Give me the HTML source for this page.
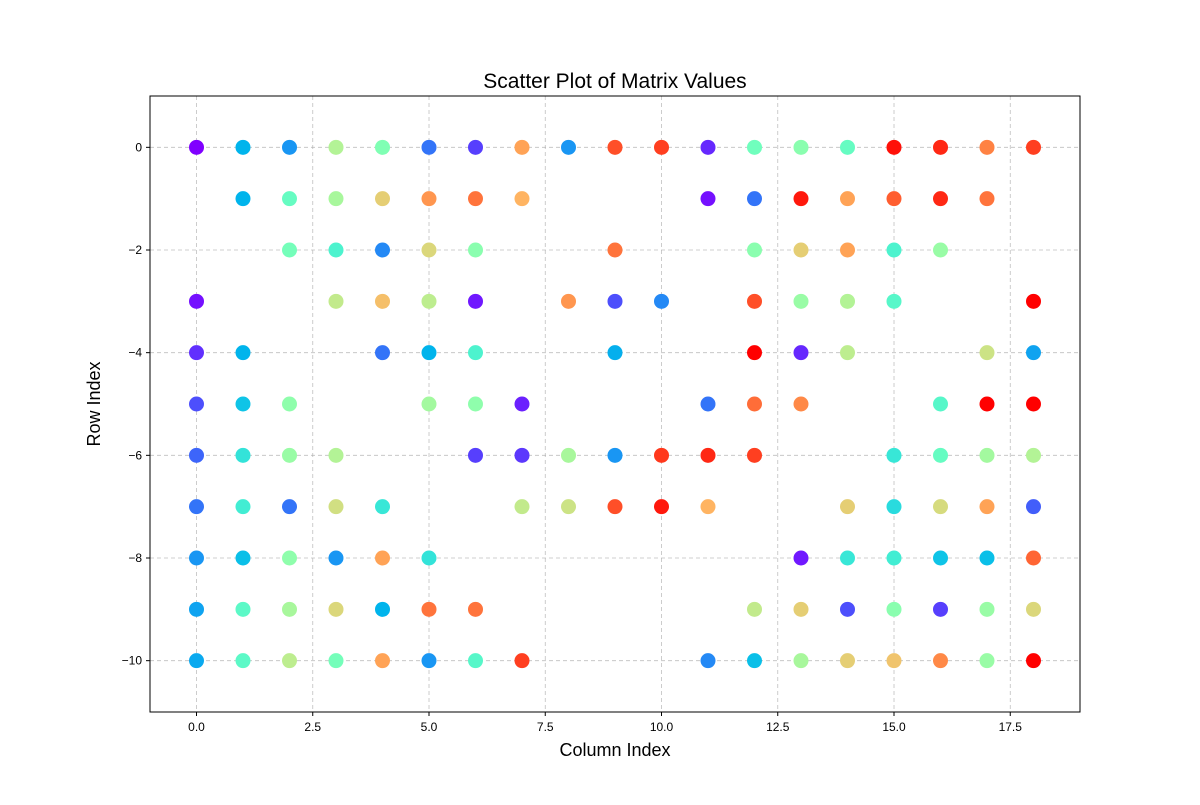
<!DOCTYPE html>
<html><head><meta charset="utf-8"><style>
body{margin:0;background:#fff;}
svg{font-family:"Liberation Sans","DejaVu Sans",sans-serif;}
</style></head><body>
<svg id="chart" width="1200" height="800" xmlns="http://www.w3.org/2000/svg">
<rect width="1200" height="800" fill="#fff"/>
<g id="grid"></g>
<g id="points"></g>
<rect x="150" y="96" width="930" height="616" fill="none" stroke="#000" stroke-width="1"/>
<g id="ticks"></g>
<text x="615" y="88" text-anchor="middle" font-size="21">Scatter Plot of Matrix Values</text>
<text x="615" y="756" text-anchor="middle" font-size="18">Column Index</text>
<text x="100" y="404" text-anchor="middle" font-size="18" transform="rotate(-90 100 404)">Row Index</text>
</svg>
<script>
const rowVals = [0,-1,-2,-3,-4,-5,-6,-7,-8,-9,-10];
const rowCols = [
[0,1,2,3,4,5,6,7,8,9,10,11,12,13,14,15,16,17,18],
[1,2,3,4,5,6,7,11,12,13,14,15,16,17],
[2,3,4,5,6,9,12,13,14,15,16],
[0,3,4,5,6,8,9,10,12,13,14,15,18],
[0,1,4,5,6,9,12,13,14,17,18],
[0,1,2,5,6,7,11,12,13,16,17,18],
[0,1,2,3,6,7,8,9,10,11,12,15,16,17,18],
[0,1,2,3,4,7,8,9,10,11,14,15,16,17,18],
[0,1,2,3,4,5,13,14,15,16,17,18],
[0,1,2,3,4,5,6,12,13,14,15,16,17,18],
[0,1,2,3,4,5,6,7,11,12,13,14,15,16,17,18]
];
const rowColors = [
[0.0,0.25,0.2,0.6,0.5,0.15,0.08,0.78,0.2,0.9,0.92,0.05,0.47,0.52,0.45,0.98,0.95,0.83,0.92],
[0.25,0.45,0.58,0.7,0.8,0.85,0.75,0.02,0.15,0.97,0.78,0.88,0.95,0.85],
[0.48,0.4,0.18,0.68,0.52,0.85,0.52,0.7,0.78,0.4,0.55],
[0.02,0.63,0.73,0.62,0.03,0.8,0.1,0.18,0.9,0.55,0.6,0.42,1.0],
[0.06,0.25,0.15,0.25,0.4,0.24,1.0,0.05,0.62,0.65,0.22],
[0.1,0.28,0.53,0.57,0.53,0.04,0.15,0.86,0.82,0.42,1.0,1.0],
[0.13,0.35,0.55,0.6,0.08,0.07,0.58,0.2,0.93,0.95,0.92,0.36,0.45,0.57,0.6],
[0.15,0.38,0.15,0.66,0.36,0.63,0.65,0.9,0.97,0.75,0.7,0.33,0.67,0.78,0.12],
[0.2,0.27,0.53,0.2,0.78,0.35,0.03,0.36,0.38,0.28,0.27,0.87],
[0.22,0.43,0.58,0.68,0.25,0.85,0.85,0.63,0.7,0.1,0.52,0.08,0.55,0.68],
[0.23,0.43,0.62,0.48,0.78,0.2,0.42,0.92,0.18,0.27,0.58,0.7,0.72,0.82,0.55,1.0]
];
const xTicks = [0,2.5,5,7.5,10,12.5,15,17.5];
const xTickLabels = ["0.0","2.5","5.0","7.5","10.0","12.5","15.0","17.5"];
const yTicks = [0,-2,-4,-6,-8,-10];
const yTickLabels = ["0","\u22122","\u22124","\u22126","\u22128","\u221210"];

const NS="http://www.w3.org/2000/svg";
const L=150,R=1080,T=96,B=712,xmin=-1,xmax=19,ymin=-11,ymax=1;
const sx=v=>L+(v-xmin)/(xmax-xmin)*(R-L);
const sy=v=>B-(v-ymin)/(ymax-ymin)*(B-T);
function rainbow(t){
  const c=x=>Math.round(Math.max(0,Math.min(1,x))*255);
  return `rgb(${c(Math.abs(2*t-0.5))},${c(Math.sin(Math.PI*t))},${c(Math.cos(Math.PI*t/2))})`;
}
function mk(tag,a,parent){const e=document.createElementNS(NS,tag);for(const k in a)e.setAttribute(k,a[k]);parent.appendChild(e);return e;}
const grid=document.getElementById('grid'),ticks=document.getElementById('ticks'),pts=document.getElementById('points');
xTicks.forEach((v,i)=>{
  const x=sx(v);
  const g=mk('line',{x1:x,x2:x,y1:T,y2:B,stroke:'#b0b0b0','stroke-width':0.8,'stroke-dasharray':'4,3',opacity:0.8},grid);
  
  
  const t=mk('line',{x1:x,x2:x,y1:B,y2:B+4,stroke:'#000'},ticks);
  
  
  const lb=mk('text',{x:x,y:B+19,'text-anchor':'middle','font-size':12},ticks);
  lb.textContent=xTickLabels[i];
  
  
});
yTicks.forEach((v,i)=>{
  const y=sy(v);
  const g=mk('line',{x1:L,x2:R,y1:y,y2:y,stroke:'#b0b0b0','stroke-width':0.8,'stroke-dasharray':'4,3',opacity:0.8},grid);
  
  
  const t=mk('line',{x1:L-4,x2:L,y1:y,y2:y,stroke:'#000'},ticks);
  
  
  const lb=mk('text',{x:L-8,y:y+4,'text-anchor':'end','font-size':12},ticks);
  lb.textContent=yTickLabels[i];
  
  
});
rowVals.forEach((rv,r)=>{
  rowCols[r].forEach((c,j)=>{
    const p=mk('circle',{cx:sx(c),cy:sy(rv),r:7.5,fill:rainbow(rowColors[r][j])},pts);
    
    
  });
});
</script>
</body></html>
